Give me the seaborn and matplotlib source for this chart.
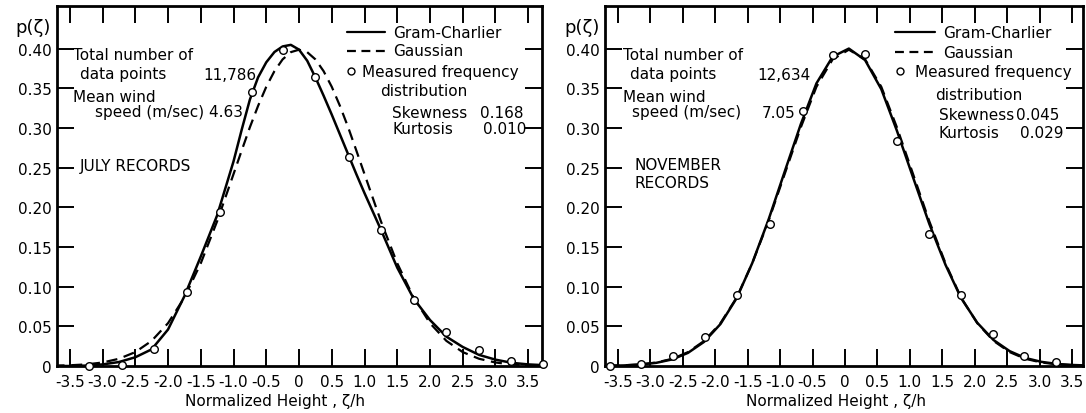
import matplotlib
matplotlib.use("Agg")
import matplotlib.pyplot as plt
from matplotlib.lines import Line2D
import seaborn as sns

# ---------------- data ----------------
# July records (finer sampling near the peak)
july_x = [-3.75, -3.5, -3.25, -3.0, -2.75, -2.5, -2.25, -2.0, -1.75, -1.5, -1.25,
          -1.0, -0.875, -0.75, -0.625, -0.5, -0.375, -0.25, -0.125, 0.0, 0.125, 0.25,
          0.375, 0.5, 0.625, 0.75, 0.875, 1.0,
          1.25, 1.5, 1.75, 2.0, 2.25, 2.5, 2.75, 3.0, 3.25, 3.5, 3.75]
july_gram_charlier = [0.0, 0.0, 0.0005, 0.002, 0.005, 0.011, 0.021, 0.046, 0.088, 0.138, 0.190,
                      0.258, 0.298, 0.336, 0.364, 0.383, 0.396, 0.403, 0.405, 0.399, 0.385, 0.364,
                      0.341, 0.317, 0.292, 0.267, 0.242, 0.218,
                      0.172, 0.124, 0.085, 0.058, 0.037, 0.024, 0.014, 0.008, 0.004, 0.002, 0.001]
july_gaussian = [0.0004, 0.0009, 0.0020, 0.0044, 0.0091, 0.0175, 0.0317, 0.0540, 0.0863, 0.1295,
                 0.1826, 0.2420, 0.2718, 0.3011, 0.3280, 0.3521, 0.3719, 0.3867, 0.3958, 0.3989,
                 0.3958, 0.3867, 0.3719, 0.3521, 0.3280, 0.3011, 0.2718, 0.2420,
                 0.1826, 0.1295, 0.0863, 0.0540, 0.0317, 0.0175, 0.0091, 0.0044, 0.0020, 0.0009,
                 0.0004]
july_meas_x = [-3.20, -2.70, -2.21, -1.71, -1.21, -0.72, -0.24, 0.24, 0.77, 1.25, 1.75,
               2.24, 2.75, 3.23, 3.72]
july_meas_y = [0.000, 0.001, 0.022, 0.093, 0.194, 0.345, 0.399, 0.364, 0.263, 0.172, 0.083,
               0.043, 0.020, 0.006, 0.002]

# November records
nov_x = [-3.65, -3.41, -3.16, -2.91, -2.66, -2.42, -2.17, -1.92, -1.67, -1.43, -1.18, -0.93,
         -0.68, -0.44, -0.19, 0.06, 0.31, 0.56, 0.80, 1.05, 1.30, 1.55, 1.79, 2.04, 2.29,
         2.54, 2.78, 3.03, 3.28, 3.53, 3.77]
nov_gram_charlier = [0.0003, 0.0007, 0.0018, 0.0040, 0.0084, 0.0166, 0.0306, 0.0529, 0.0856,
                     0.1297, 0.1842, 0.2450, 0.3052, 0.3564, 0.3901, 0.4003, 0.3858, 0.3491,
                     0.2969, 0.2378, 0.1793, 0.1276, 0.0857, 0.0545, 0.0328, 0.0187, 0.0101,
                     0.0052, 0.0025, 0.0012, 0.0005]
nov_gaussian = [0.0004, 0.0009, 0.0020, 0.0044, 0.0091, 0.0175, 0.0317, 0.0540, 0.0863,
                0.1295, 0.1826, 0.2420, 0.3011, 0.3521, 0.3867, 0.3989, 0.3867, 0.3521,
                0.3011, 0.2420, 0.1826, 0.1295, 0.0863, 0.0540, 0.0317, 0.0175, 0.0091,
                0.0044, 0.0020, 0.0009, 0.0004]
nov_meas_x = [-3.63, -3.15, -2.65, -2.16, -1.66, -1.15, -0.64, -0.18, 0.31, 0.80, 1.29, 1.79,
              2.28, 2.76, 3.26]
nov_meas_y = [0.000, 0.003, 0.012, 0.036, 0.090, 0.179, 0.322, 0.392, 0.393, 0.284, 0.166,
              0.090, 0.040, 0.012, 0.005]

xtick_vals = [-3.5, -3.0, -2.5, -2.0, -1.5, -1.0, -0.5, 0.0, 0.5, 1.0, 1.5, 2.0, 2.5, 3.0, 3.5]
xtick_labels = ["-3.5", "-3.0", "-2.5", "-2.0", "-1.5", "-1.0", "-0.5", "0", "0.5", "1.0",
                "1.5", "2.0", "2.5", "3.0", "3.5"]
ytick_vals = [0.0, 0.05, 0.10, 0.15, 0.20, 0.25, 0.30, 0.35, 0.40]
ytick_labels = ["0", "0.05", "0.10", "0.15", "0.20", "0.25", "0.30", "0.35", "0.40"]

# ---------------- style ----------------
sns.set_theme(style="ticks")
plt.rcParams["font.family"] = ["DejaVu Sans"]
plt.rcParams["axes.unicode_minus"] = False
plt.rcParams["text.color"] = "black"
plt.rcParams["axes.labelcolor"] = "black"
plt.rcParams["xtick.color"] = "black"
plt.rcParams["ytick.color"] = "black"

W, H = 1086, 414
fig = plt.figure(figsize=(W / 100, H / 100), dpi=100)
fig.patch.set_facecolor("white")


def rect(l, t, r, b):
    return [l / W, 1 - b / H, (r - l) / W, (b - t) / H]


def T(x, y, s, **kw):
    kw.setdefault("fontsize", 11)
    kw.setdefault("ha", "left")
    kw.setdefault("va", "center")
    fig.text(x / W, 1 - y / H, s, color="black", **kw)


def seg(x0, x1, y, ls="-"):
    fig.add_artist(Line2D([x0 / W, x1 / W], [1 - y / H, 1 - y / H], transform=fig.transFigure,
                          color="black", lw=1.6, ls=ls))


def circ(x, y):
    fig.add_artist(Line2D([x / W], [1 - y / H], transform=fig.transFigure, marker="o",
                          markersize=5, markerfacecolor="white", markeredgecolor="black",
                          markeredgewidth=1.0, ls="none"))


axL = fig.add_axes(rect(57, 7, 542, 367))
axR = fig.add_axes(rect(605, 7, 1083, 367))

panels = [
    (axL, july_x, july_gram_charlier, july_gaussian, july_meas_x, july_meas_y,
     (-3.695, 3.71), 275, 33),
    (axR, nov_x, nov_gram_charlier, nov_gaussian, nov_meas_x, nov_meas_y,
     (-3.70, 3.67), 836, 582),
]

for ax, cx, gc, ga, mx, my, xl, xlab_c, ylab_x in panels:
    sns.lineplot(x=cx, y=ga, ax=ax, color="black", lw=1.6, ls=(0, (5, 3)))
    sns.lineplot(x=cx, y=gc, ax=ax, color="black", lw=1.8)
    sns.scatterplot(x=mx, y=my, ax=ax, marker="o", s=30, color="white", edgecolor="black",
                    linewidth=1.0, zorder=5, clip_on=False)
    ax.set_xlim(*xl)
    ax.set_ylim(0, 0.454)
    ax.set_xticks(xtick_vals)
    ax.set_xticklabels(xtick_labels)
    ax.set_yticks(ytick_vals)
    ax.set_yticklabels(ytick_labels)
    ax.tick_params(direction="in", length=12, width=1.4, top=True, right=True,
                   labelsize=11, colors="black")
    ax.tick_params(axis="x", pad=6)
    ax.tick_params(axis="y", pad=4)
    for sp in ax.spines.values():
        sp.set_visible(True)
        sp.set_linewidth(2.0)
        sp.set_color("black")
    ax.set_facecolor("white")
    l, b, w, h = ax.get_position().bounds
    ax.set_xlabel("Normalized Height , ζ/h", fontsize=11, color="black")
    ax.xaxis.set_label_coords((xlab_c / W - l) / w, (1 - 394 / H - b) / h)
    ax.set_ylabel("p(ζ)", fontsize=13, rotation=0, ha="center", va="center", color="black")
    ax.yaxis.set_label_coords((ylab_x / W - l) / w, (1 - 28 / H - b) / h)

# ---------------- left annotations ----------------
T(73, 56, "Total number of")
T(80, 75, "data points")
T(203, 75, "11,786")
T(73, 98, "Mean wind")
T(95, 113, "speed (m/sec) 4.63")
T(80, 167, "JULY RECORDS")

seg(347, 385, 33)
T(393, 33, "Gram-Charlier")
seg(347, 385, 52, ls=(0, (4, 2.5)))
T(393, 52, "Gaussian")
circ(351, 72)
T(362, 72, "Measured frequency")
T(380, 92, "distribution")
T(392, 113, "Skewness")
T(480, 113, "0.168")
T(392, 129, "Kurtosis")
T(483, 129, "0.010")

# ---------------- right annotations ----------------
T(623, 56, "Total number of")
T(630, 75, "data points")
T(757, 75, "12,634")
T(623, 97, "Mean wind")
T(632, 113, "speed (m/sec)")
T(762, 113, "7.05")
T(635, 166, "NOVEMBER")
T(635, 184, "RECORDS")

seg(895, 935, 33)
T(943, 33, "Gram-Charlier")
seg(895, 935, 53, ls=(0, (4, 2.5)))
T(943, 53, "Gaussian")
circ(900, 72)
T(915, 72, "Measured frequency")
T(935, 95, "distribution")
T(939, 116, "Skewness")
T(1016, 116, "0.045")
T(939, 133, "Kurtosis")
T(1020, 133, "0.029")

fig.savefig("out.png", dpi=100, facecolor="white")
